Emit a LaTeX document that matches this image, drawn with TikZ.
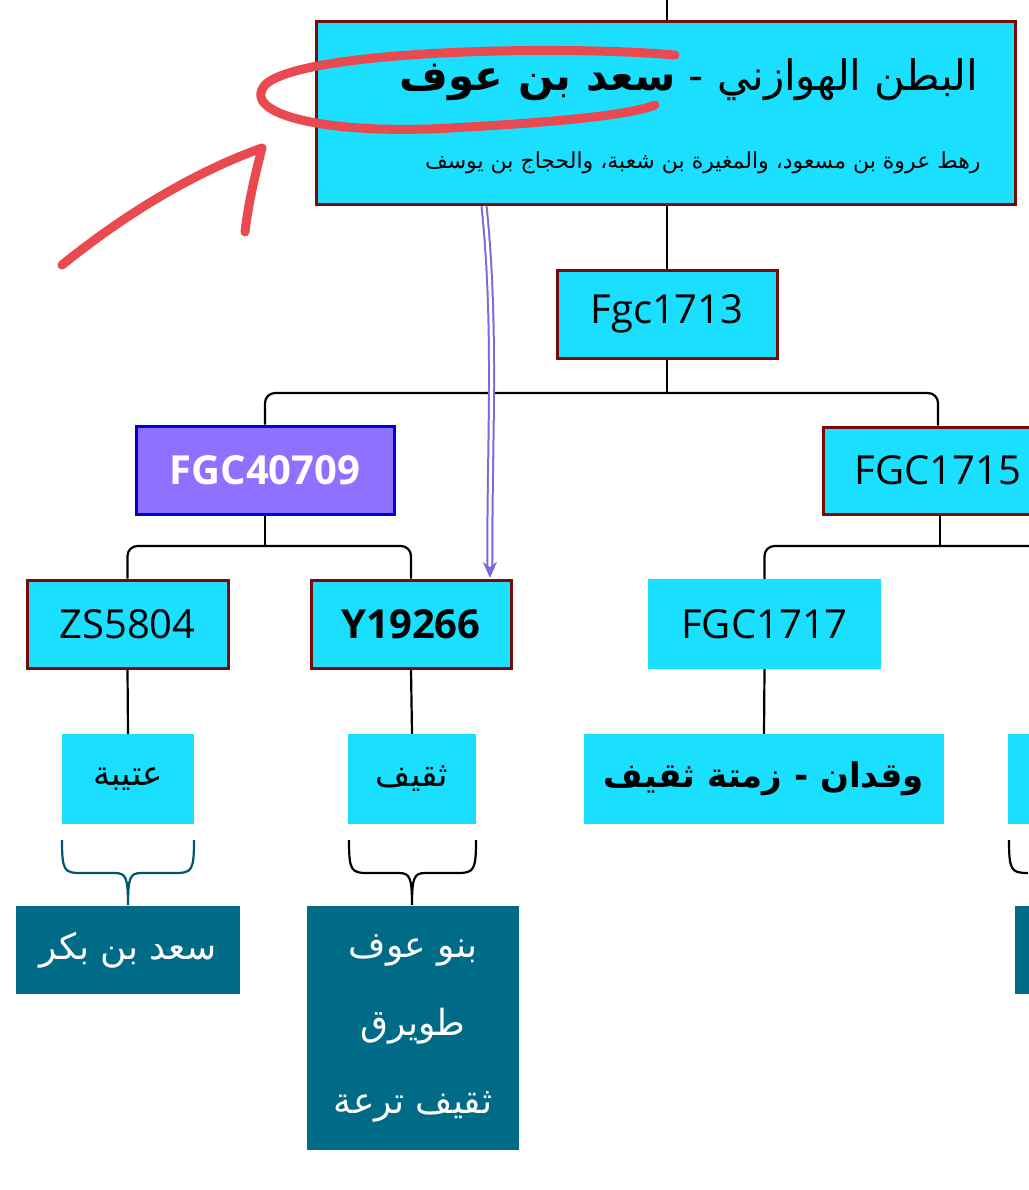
\documentclass[tikz,border=0pt]{standalone}
\usepackage{fontspec}
\setmainfont{Open Sans}
\newfontfamily\arabicfont[Script=Arabic]{DejaVu Sans}
\TeXXeTstate=1
\usetikzlibrary{arrows.meta}
\definecolor{cy}{HTML}{1ADFFF}
\definecolor{dred}{HTML}{7A0A0A}
\definecolor{pur}{HTML}{8E72FF}
\definecolor{teal}{HTML}{006B87}
\definecolor{ared}{HTML}{E84A4F}
\definecolor{arrp}{HTML}{7B68E0}
\begin{document}
\begin{tikzpicture}[x=1pt,y=-1pt,
  box/.style={fill=cy,inner sep=0pt,font=\fontsize{40}{44}\selectfont},
  bbox/.style={box,draw=dred,line width=3pt},
  tbox/.style={fill=teal,text=white,inner sep=0pt,align=center,font=\arabicfont\fontsize{36}{78}\selectfont},
  conn/.style={line width=2.2pt,rounded corners=10pt},
  brace/.style={line width=2.2pt}]
\useasboundingbox (0,0) rectangle (1028,1190);
\fill[white] (0,0) rectangle (1028,1190);
% top box
\node[bbox,minimum width=699pt,minimum height=183pt] (top) at (665.5,113.5) {};
\node[anchor=east,font=\arabicfont\fontsize{42}{46}\selectfont] (t1) at (982,80) {\beginR البطن الهوازني - \textbf{سعد بن عوف}\endR};
\node[anchor=east,font=\arabicfont\fontsize{22}{26}\selectfont] (t2) at (984,163) {\beginR رهط عروة بن مسعود، والمغيرة بن شعبة، والحجاج بن يوسف\endR};
\coordinate (c0) at (667,0);
\draw[line width=2.2pt] (c0) -- (top.north -| c0);
\node[bbox,minimum width=220pt,minimum height=88pt] (f13) at (667,314) {Fgc1713};
\draw[line width=2.2pt] (top.south -| f13) -- (f13.north);
\node[box,draw=blue!85!black,line width=3pt,fill=pur,text=white,font=\bfseries\fontsize{40}{44}\selectfont,minimum width=258pt,minimum height=88pt] (f40) at (265,470) {FGC40709};
\node[bbox,minimum width=230pt,minimum height=87pt] (f15) at (938,470.5) {FGC1715};
\draw[line width=2.2pt] (f13.south) -- (667,393);
\draw[conn] (f40.north) -- (f40.north |- 0,393) -- (f15.north |- 0,393) -- (f15.north);
\node[bbox,minimum width=201pt,minimum height=88pt] (zs) at (127.5,624) {ZS5804};
\node[bbox,minimum width=200pt,minimum height=88pt,font=\bfseries\fontsize{40}{44}\selectfont] (y19) at (411,624) {Y19266};
\node[box,minimum width=233pt,minimum height=90pt] (f17) at (764.5,624) {FGC1717};
\draw[line width=2.2pt] (f40.south) -- (265,546);
\draw[conn] (zs.north) -- (zs.north |- 0,546) -- (y19.north |- 0,546) -- (y19.north);
\draw[line width=2.2pt] (f15.south -| 940,0) -- (940,546);
\draw[conn] (f17.north) -- (f17.north |- 0,546) -- (1040,546);
% purple arrow
\draw[arrp,line width=2pt,double=white,double distance=3pt,-{Stealth[length=16pt,width=14pt]}] (484,206) .. controls (497,330) and (489,450) .. (490,578);
% level 4
\node[box,font=\arabicfont\fontsize{34}{38}\selectfont,minimum width=132pt,minimum height=90pt] (ot) at (128,779) {\beginR عتيبة\endR};
\node[box,font=\arabicfont\fontsize{34}{38}\selectfont,minimum width=128pt,minimum height=90pt] (th) at (412,779) {\beginR ثقيف\endR};
\node[box,font=\arabicfont\bfseries\fontsize{34}{38}\selectfont,minimum width=360pt,minimum height=90pt] (wq) at (764,779) {\beginR وقدان - زمتة ثقيف\endR};
\node[box,minimum width=40pt,minimum height=90pt] (rp) at (1028,779) {};
\draw[line width=2.2pt] (zs.south) -- (ot.north);
\draw[line width=2.2pt] (y19.south) -- (th.north);
\draw[line width=2.2pt] (f17.south) -- (wq.north);
% braces
\draw[brace,teal!80!black] (62,840) .. controls (62,870) and (64,873) .. (80,873) -- (115,873) .. controls (126,873) and (128,878) .. (128,905)
  (194,840) .. controls (194,870) and (192,873) .. (176,873) -- (141,873) .. controls (130,873) and (128,878) .. (128,905);
\draw[brace,black] (349,840) .. controls (349,870) and (351,873) .. (367,873) -- (399,873) .. controls (410,873) and (412,878) .. (412,905)
  (476,840) .. controls (476,870) and (474,873) .. (458,873) -- (425,873) .. controls (414,873) and (412,878) .. (412,905);
\draw[brace,black] (1009,840) .. controls (1009,870) and (1011,873) .. (1028,873);
% bottom boxes
\node[tbox,minimum width=224pt,minimum height=88pt] (sb) at (128,950) {\beginR سعد بن بكر\endR};
\node[tbox,minimum width=212pt,minimum height=244pt] (ba) at (413,1028) {\beginR بنو عوف\endR\\\beginR طويرق\endR\\\beginR ثقيف ترعة\endR};
\node[fill=teal,minimum width=26pt,minimum height=88pt,inner sep=0pt] (rb) at (1028,950) {};
% red annotation
\draw[ared,line width=9pt,line cap=round] (675,55) .. controls (560,45) and (300,50) .. (265,85) .. controls (240,115) and (330,135) .. (450,128) .. controls (560,122) and (630,115) .. (655,105);
\draw[ared,line width=9pt,line cap=round,line join=round] (62,265) .. controls (130,210) and (200,170) .. (262,148) .. controls (255,175) and (248,205) .. (245,232);
\end{tikzpicture}
\end{document}
